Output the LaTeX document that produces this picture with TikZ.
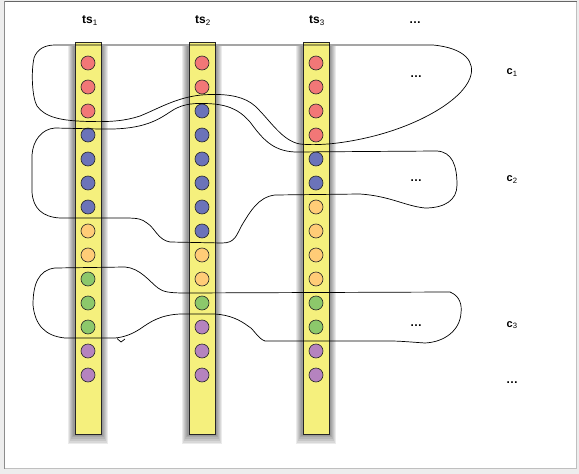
\documentclass[tikz,border=0pt]{standalone}
\usepackage{fontspec}
\setmainfont{Liberation Sans}
\definecolor{cred}{HTML}{F27777}
\definecolor{cblue}{HTML}{6B73B9}
\definecolor{corange}{HTML}{FFCC77}
\definecolor{cgreen}{HTML}{8CC86B}
\definecolor{cpurple}{HTML}{B583BF}
\definecolor{cbar}{HTML}{F5F07D}
\begin{document}
\begin{tikzpicture}[x=1pt,y=-1pt,
  bar/.style={draw=black!85, line width=0.8pt, fill=cbar, minimum width=26pt, minimum height=392pt, inner sep=0pt},
  dot/.style={circle, draw=black!85, line width=0.6pt, minimum size=14pt, inner sep=0pt},
  lab/.style={font=\bfseries\fontsize{12}{14}\selectfont, inner sep=0pt, anchor=base},
  clab/.style={font=\bfseries\fontsize{11}{13}\selectfont, inner sep=0pt, anchor=base west},
  dots/.style={font=\bfseries\fontsize{12}{14}\selectfont, inner sep=0pt, anchor=base},
  freeline/.style={draw=black, line width=0.7pt}]
\useasboundingbox (0,0) rectangle (579,474);
\fill[black!7] (0,0) rectangle (579,474);
\fill[white] (4.5,1.5) rectangle (576.5,468.5);
\draw[black!45, line width=0.8pt] (4.5,468.5) -- (4.5,1.5) -- (576.5,1.5);
\draw[black!25, line width=0.8pt] (576.5,1.5) -- (576.5,468.5) -- (4.5,468.5);
\draw[black!60, line width=1.2pt] (4.5,1.2) -- (576.5,1.2);
% bar shadows
\foreach \x in {88,202,316}{
  \foreach \i in {1,...,6}{
    \fill[black, opacity=0.08] (\x-14-\i, 46) rectangle (\x+14+\i, 434+\i*1.7);
  }
}
% bars
\node[bar] (bar1) at (88,238) {};
\node[bar] (bar2) at (202,238) {};
\node[bar] (bar3) at (316,238) {};
% dots
\foreach \c [count=\i] in {cred,cred,cred,cblue,cblue,cblue,cblue,corange,corange,cgreen,cgreen,cgreen,cpurple,cpurple}
  \node[dot, fill=\c] (d1-\i) at (88,39+24*\i) {};
\foreach \c [count=\i] in {cred,cred,cblue,cblue,cblue,cblue,cblue,cblue,corange,corange,cgreen,cpurple,cpurple,cpurple}
  \node[dot, fill=\c] (d2-\i) at (202,39+24*\i) {};
\foreach \c [count=\i] in {cred,cred,cred,cred,cblue,cblue,corange,corange,corange,corange,cgreen,cgreen,cpurple,cpurple}
  \node[dot, fill=\c] (d3-\i) at (316,39+24*\i) {};
% labels
\node[lab] (ts1) at (90,23.5) {ts\textsubscript{\mdseries 1}};
\node[lab] (ts2) at (203,23.5) {ts\textsubscript{\mdseries 2}};
\node[lab] (ts3) at (317,23.5) {ts\textsubscript{\mdseries 3}};
\node[dots] (tdots) at (415,23) {…};
\node[dots] (dots1) at (416,77.5) {…};
\node[dots] (dots2) at (416,181) {…};
\node[dots] (dots3) at (416,326) {…};
\node[dots] (dots4) at (512,383) {…};
\node[clab] (c1) at (506.5,74.5) {c\textsubscript{\mdseries 1}};
\node[clab] (c2) at (506.5,181.5) {c\textsubscript{\mdseries 2}};
\node[clab] (c3) at (506.5,327) {c\textsubscript{\mdseries 3}};
% loop c1
\draw[freeline] (55,45) -- (433,45)
  .. controls (465,48) and (476,62) .. (470,78)
  .. controls (462,100) and (420,125) .. (370,137)
  .. controls (345,143) and (320,146) .. (300,144)
  .. controls (282,141) and (270,120) .. (255,106)
  .. controls (245,97) and (230,94) .. (210,94.5)
  .. controls (180,95) and (160,108) .. (140,116)
  .. controls (125,121) and (110,122) .. (90,121.5)
  .. controls (60,121) and (45,117) .. (37,106)
  .. controls (32,97) and (31,72) .. (34,58)
  .. controls (37,49) and (45,45) .. cycle;
% loop c2
\draw[freeline] (55,128) -- (100,129)
  .. controls (140,130) and (155,122) .. (170,112)
  .. controls (180,105) and (190,103) .. (205,103.5)
  .. controls (225,104) and (238,108) .. (250,122)
  .. controls (262,138) and (272,151) .. (295,152)
  -- (437,151)
  .. controls (452,152) and (457,165) .. (457,185)
  .. controls (457,200) and (445,208) .. (425,208)
  .. controls (405,206) and (390,196) .. (360,194)
  -- (275,195)
  .. controls (258,197) and (250,212) .. (242,225)
  .. controls (236,236) and (235,243) .. (222,243)
  -- (170,242)
  .. controls (158,240) and (155,228) .. (147,223)
  .. controls (142,219) and (138,218) .. (125,218)
  -- (60,218)
  .. controls (42,217) and (33,208) .. (32,192)
  -- (32,155)
  .. controls (33,140) and (42,129) .. cycle;
% loop c3
\draw[freeline] (55,268) -- (125,267)
  .. controls (140,268) and (150,282) .. (158,288)
  .. controls (163,292) and (170,293) .. (185,293)
  -- (450,292)
  .. controls (460,296) and (462,305) .. (461,313)
  .. controls (460,330) and (445,342) .. (425,343)
  .. controls (410,342) and (400,341) .. (390,341)
  -- (265,341)
  .. controls (257,338) and (255,330) .. (248,326)
  .. controls (240,320) and (230,315) .. (215,314)
  -- (180,314)
  .. controls (160,315) and (150,322) .. (140,329)
  .. controls (132,334) and (125,337) .. (115,338)
  -- (65,338)
  .. controls (45,336) and (35,325) .. (33,305)
  .. controls (33,285) and (38,270) .. cycle;
\coordinate (hk1) at (117,338.5);
\coordinate (hk2) at (121,342);
\coordinate (hk3) at (125,339);
\draw[freeline] (hk1) -- (hk2) -- (hk3);
\end{tikzpicture}
\end{document}
